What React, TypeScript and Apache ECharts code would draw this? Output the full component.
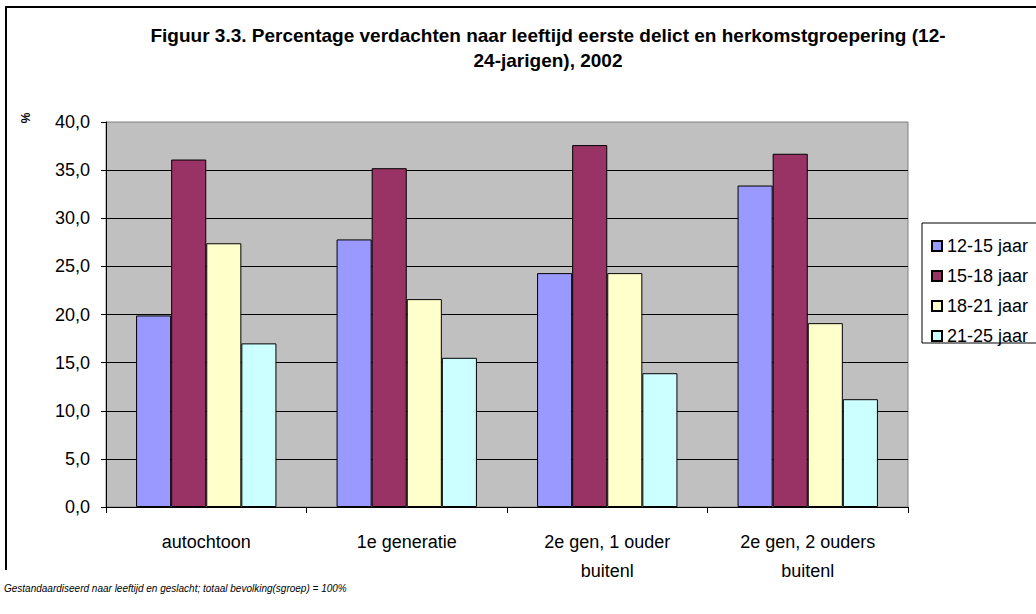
import React, { useEffect, useRef } from "react";
import * as echarts from "echarts";

const categories = ["autochtoon", "1e generatie", "2e gen, 1 ouder\nbuitenl", "2e gen, 2 ouders\nbuitenl"];
const seriesNames = ["12-15 jaar", "15-18 jaar", "18-21 jaar", "21-25 jaar"];
const age1215 = [19.9, 27.8, 24.3, 33.4];
const age1518 = [36.1, 35.2, 37.6, 36.7];
const age1821 = [27.4, 21.6, 24.3, 19.1];
const age2125 = [17.0, 15.5, 13.9, 11.2];
const colors = ["#9999FF", "#993366", "#FFFFCC", "#CCFFFF"];

const titleText =
  "Figuur 3.3. Percentage verdachten naar leeftijd eerste delict en herkomstgroepering (12-\n24-jarigen), 2002";
const noteText = "Gestandaardiseerd naar leeftijd en geslacht; totaal bevolking(sgroep) = 100%";
const font = "Arial, 'Liberation Sans', sans-serif";

export default function App() {
  const ref = useRef<HTMLDivElement>(null);
  useEffect(() => {
    if (!ref.current) return;
    const chart = echarts.init(ref.current, null, { renderer: "svg" });
    const values = [age1215, age1518, age1821, age2125];
    chart.setOption({
      animation: false,
      backgroundColor: "#ffffff",
      textStyle: { fontFamily: font },
      title: {
        text: titleText,
        left: 543,
        top: 18,
        textAlign: "center",
        textStyle: { fontSize: 19, fontWeight: "bold", color: "#000", lineHeight: 25, fontFamily: font },
      },
      legend: {
        orient: "vertical",
        left: 926,
        top: 231,
        itemWidth: 10,
        itemHeight: 10,
        itemGap: 10,
        icon: "rect",
        data: seriesNames,
        textStyle: { fontSize: 18, color: "#000", lineHeight: 20, fontFamily: font },
      },
      grid: {
        left: 106,
        right: 128,
        top: 122,
        bottom: 107,
        show: true,
        backgroundColor: "#C0C0C0",
        borderColor: "#808080",
        borderWidth: 1,
      },
      xAxis: {
        type: "category",
        data: categories,
        axisLine: { lineStyle: { color: "#000", width: 1 } },
        axisTick: { show: true, length: 6, lineStyle: { color: "#000" } },
        axisLabel: { color: "#000", fontSize: 18, lineHeight: 29, margin: 20, fontFamily: font },
      },
      yAxis: {
        type: "value",
        min: 0,
        max: 40,
        interval: 5,
        axisLine: { show: true, lineStyle: { color: "#000", width: 1 } },
        axisTick: { show: true, length: 5, lineStyle: { color: "#000" } },
        axisLabel: {
          color: "#000",
          fontSize: 18,
          margin: 16,
          fontFamily: font,
          formatter: (v: number) => v.toFixed(1).replace(".", ","),
        },
        splitLine: { show: true, showMaxLine: false, lineStyle: { color: "#000", width: 1 } },
      },
      series: seriesNames.map((name, i) => ({
        name,
        type: "bar",
        data: values[i],
        barGap: "0%",
        barCategoryGap: "30%",
        itemStyle: { color: colors[i], borderColor: "#000", borderWidth: 1 },
      })),
      graphic: [
        { type: "line", shape: { x1: 6, y1: 7, x2: 1040, y2: 7 }, style: { stroke: "#000", lineWidth: 2 } },
        { type: "line", shape: { x1: 6, y1: 6, x2: 6, y2: 570 }, style: { stroke: "#000", lineWidth: 2 } },
        {
          type: "rect",
          shape: { x: 922, y: 223, width: 130, height: 120 },
          style: { fill: "#fff", stroke: "#000", lineWidth: 1 },
          z: -1,
          zlevel: 0,
        },
        {
          type: "text",
          x: 26,
          y: 118,
          rotation: Math.PI / 2,
          style: { text: "%", font: `bold 12px ${font}`, fill: "#000", textAlign: "center", textVerticalAlign: "middle" },
        },
        {
          type: "text",
          x: 4,
          y: 588,
          style: { text: noteText, font: `italic 10px ${font}`, fill: "#000", textVerticalAlign: "middle" },
        },
      ],
    });
    return () => chart.dispose();
  }, []);
  return <div ref={ref} style={{ position: "fixed", left: 0, top: 0, width: 1036, height: 614 }} />;
}
